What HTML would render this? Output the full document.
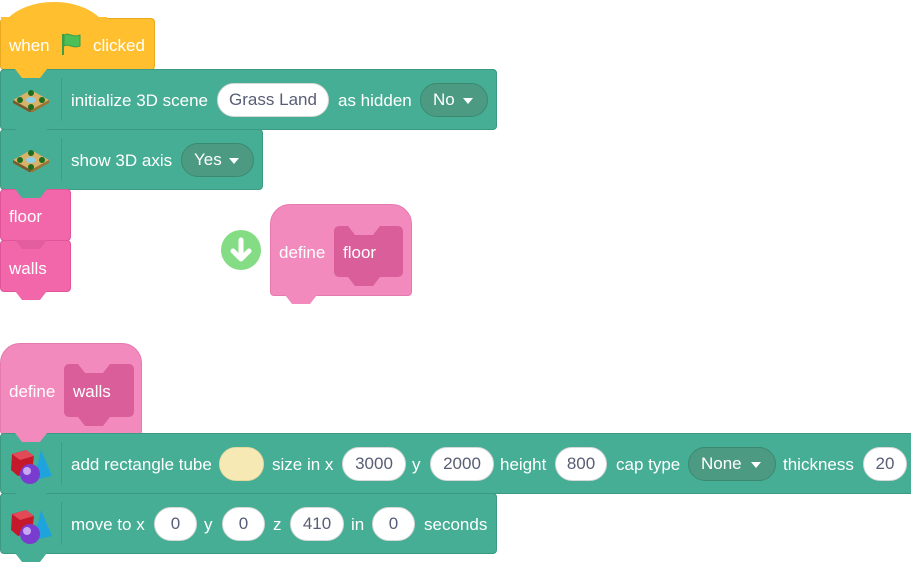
<!DOCTYPE html>
<html><head><style>
html,body{margin:0;padding:0;background:#fff;width:911px;height:562px;overflow:hidden;position:relative;font-family:"Liberation Sans",sans-serif;font-size:17px;color:#fff}
.a{position:absolute}
.blk{position:absolute;border-radius:4px;box-sizing:border-box}
.teal{background:#45ae94;border:1px solid #3b9a81}
.pk{background:#f266aa;border:1px solid #e0559a}
.df{background:#f28abd;border:1px solid #e57aae}
.tab{position:absolute;height:9px;width:32px;clip-path:polygon(0 0,100% 0,78% 100%,22% 100%)}
.t{position:absolute;line-height:20px;white-space:nowrap}
.pill{position:absolute;background:#fff;border:1px solid #d8d8d8;border-radius:17px;color:#575e75;text-align:center;line-height:32px;height:34px;box-sizing:border-box}
.dd{position:absolute;background:#4c9a82;border:1px solid #3a8a72;border-radius:17px;height:34px;line-height:32px;box-sizing:border-box;padding-left:12px}
.dd:after{content:"";position:absolute;right:14px;top:14px;border-left:5px solid transparent;border-right:5px solid transparent;border-top:6px solid #fff}
.sep{position:absolute;width:1px;background:#3b9a81;opacity:.8}
.inner{position:absolute;background:#d95e9a;border-radius:5px}
</style></head><body>

<!-- hat -->
<div class="a" style="left:0;top:2px;width:108px;height:40px;background:#ffbf2e;border-radius:54px 54px 0 0/34px 34px 0 0"></div>
<div class="blk" style="left:0;top:18px;width:155px;height:52px;background:#ffbf2e;border:1px solid #e9a91f"></div>
<div class="a" style="left:1px;top:17px;width:106px;height:4px;background:#ffbf2e"></div>
<div class="tab" style="left:15px;top:69px;background:#ffbf2e"></div>
<span class="t" style="left:9px;top:36px">when</span>
<svg class="a" style="left:60px;top:32px" width="24" height="24" viewBox="0 0 24 24"><path d="M3 2v21" stroke="#3d9e47" stroke-width="2"/><path d="M4 3c5-3 8 3 16 0v11c-8 3-11-3-16 0z" fill="#4cbf56" stroke="#3d9e47"/></svg>
<span class="t" style="left:93px;top:36px">clicked</span>

<!-- init block -->
<div class="blk teal" style="left:0;top:69px;width:497px;height:61px"></div>
<div class="tab" style="left:15px;top:69px;background:#ffbf2e"></div>
<svg class="a" style="left:11px;top:88px" width="40" height="24"><polygon points="20,2 38,12 20,22 2,12" fill="#d9b26a"/><polygon points="2,12 20,22 20,25 2,15" fill="#7a5a2a"/><polygon points="38,12 20,22 20,25 38,15" fill="#9a7536"/><circle cx="20" cy="5" r="3" fill="#1f6e1f"/><circle cx="9" cy="12" r="3" fill="#1f6e1f"/><circle cx="31" cy="12" r="3" fill="#1f6e1f"/><circle cx="20" cy="19" r="3" fill="#1f6e1f"/><ellipse cx="20" cy="12" rx="5" ry="3" fill="#8fd0e8"/></svg>
<div class="sep" style="left:61px;top:78px;height:43px"></div>
<span class="t" style="left:71px;top:91px">initialize 3D scene</span>
<div class="pill" style="left:217px;top:83px;width:112px">Grass Land</div>
<span class="t" style="left:338px;top:91px">as hidden</span>
<div class="dd" style="left:420px;top:83px;width:68px">No</div>

<!-- show axis -->
<div class="blk teal" style="left:0;top:129px;width:263px;height:61px"></div>
<div class="tab" style="left:15px;top:129px;background:#45ae94"></div>
<svg class="a" style="left:11px;top:148px" width="40" height="24"><polygon points="20,2 38,12 20,22 2,12" fill="#d9b26a"/><polygon points="2,12 20,22 20,25 2,15" fill="#7a5a2a"/><polygon points="38,12 20,22 20,25 38,15" fill="#9a7536"/><circle cx="20" cy="5" r="3" fill="#1f6e1f"/><circle cx="9" cy="12" r="3" fill="#1f6e1f"/><circle cx="31" cy="12" r="3" fill="#1f6e1f"/><circle cx="20" cy="19" r="3" fill="#1f6e1f"/><ellipse cx="20" cy="12" rx="5" ry="3" fill="#8fd0e8"/></svg>
<div class="sep" style="left:61px;top:138px;height:43px"></div>
<span class="t" style="left:71px;top:151px">show 3D axis</span>
<div class="dd" style="left:181px;top:143px;width:73px">Yes</div>

<!-- floor/walls -->
<div class="blk pk" style="left:0;top:189px;width:71px;height:52px"></div>
<div class="tab" style="left:15px;top:189px;background:#45ae94"></div>
<span class="t" style="left:9px;top:207px">floor</span>
<div class="blk pk" style="left:0;top:240px;width:71px;height:52px"></div>
<div class="tab" style="left:15px;top:240px;background:#e45d9f"></div>
<div class="tab" style="left:15px;top:291px;background:#f266aa"></div>
<span class="t" style="left:9px;top:259px">walls</span>

<!-- green arrow -->
<svg class="a" style="left:221px;top:230px" width="40" height="40"><circle cx="20" cy="20" r="20" fill="#84dc84"/><path d="M20 10v18M12 21l8 8 8-8" stroke="#fff" stroke-width="5" fill="none" stroke-linecap="round" stroke-linejoin="round"/></svg>

<!-- define floor -->
<div class="blk df" style="left:270px;top:204px;width:142px;height:92px;border-radius:20px 20px 4px 4px"></div>
<div class="tab" style="left:285px;top:295px;background:#f28abd"></div>
<span class="t" style="left:279px;top:243px">define</span>
<div class="inner" style="left:334px;top:226px;width:69px;height:51px"></div>
<div class="tab" style="left:348px;top:226px;background:#f28abd"></div>
<div class="tab" style="left:348px;top:277px;background:#d95e9a"></div>
<span class="t" style="left:343px;top:243px">floor</span>

<!-- define walls -->
<div class="blk df" style="left:0;top:343px;width:142px;height:92px;border-radius:20px 20px 4px 4px"></div>
<span class="t" style="left:9px;top:382px">define</span>
<div class="inner" style="left:64px;top:364px;width:70px;height:53px"></div>
<div class="tab" style="left:78px;top:364px;background:#f28abd"></div>
<div class="tab" style="left:78px;top:417px;background:#d95e9a"></div>
<span class="t" style="left:73px;top:382px">walls</span>

<!-- add rectangle tube -->
<div class="blk teal" style="left:0;top:433px;width:915px;height:61px"></div>
<div class="tab" style="left:15px;top:433px;background:#f28abd"></div>
<svg class="a" style="left:8px;top:446px" width="46" height="40"><polygon points="4,8 18,4 26,10 24,26 10,30 3,24" fill="#c5182b"/><polygon points="4,8 18,4 26,10 12,14" fill="#e24a58"/><polygon points="33,4 44,30 26,34" fill="#1fa3dc"/><circle cx="22" cy="28" r="10" fill="#7a3ccf"/><circle cx="19" cy="25" r="4" fill="#c9a8f3"/></svg>
<div class="sep" style="left:61px;top:442px;height:43px"></div>
<span class="t" style="left:71px;top:455px">add rectangle tube</span>
<div class="a" style="left:219px;top:447px;width:45px;height:34px;border-radius:17px;background:#f7e9b4;border:1px solid #e6d9a0;box-sizing:border-box"></div>
<span class="t" style="left:272px;top:455px">size in x</span>
<div class="pill" style="left:342px;top:447px;width:64px">3000</div>
<span class="t" style="left:412px;top:455px">y</span>
<div class="pill" style="left:430px;top:447px;width:64px">2000</div>
<span class="t" style="left:500px;top:455px">height</span>
<div class="pill" style="left:555px;top:447px;width:52px">800</div>
<span class="t" style="left:616px;top:455px">cap type</span>
<div class="dd" style="left:688px;top:447px;width:88px">None</div>
<span class="t" style="left:783px;top:455px">thickness</span>
<div class="pill" style="left:863px;top:447px;width:44px">20</div>

<!-- move -->
<div class="blk teal" style="left:0;top:493px;width:497px;height:61px"></div>
<div class="tab" style="left:15px;top:493px;background:#45ae94"></div>
<div class="tab" style="left:15px;top:553px;background:#45ae94"></div>
<svg class="a" style="left:8px;top:506px" width="46" height="40"><polygon points="4,8 18,4 26,10 24,26 10,30 3,24" fill="#c5182b"/><polygon points="4,8 18,4 26,10 12,14" fill="#e24a58"/><polygon points="33,4 44,30 26,34" fill="#1fa3dc"/><circle cx="22" cy="28" r="10" fill="#7a3ccf"/><circle cx="19" cy="25" r="4" fill="#c9a8f3"/></svg>
<div class="sep" style="left:61px;top:502px;height:43px"></div>
<span class="t" style="left:71px;top:515px">move to x</span>
<div class="pill" style="left:154px;top:507px;width:43px">0</div>
<span class="t" style="left:204px;top:515px">y</span>
<div class="pill" style="left:222px;top:507px;width:43px">0</div>
<span class="t" style="left:273px;top:515px">z</span>
<div class="pill" style="left:290px;top:507px;width:54px">410</div>
<span class="t" style="left:351px;top:515px">in</span>
<div class="pill" style="left:372px;top:507px;width:43px">0</div>
<span class="t" style="left:424px;top:515px">seconds</span>

</body></html>
